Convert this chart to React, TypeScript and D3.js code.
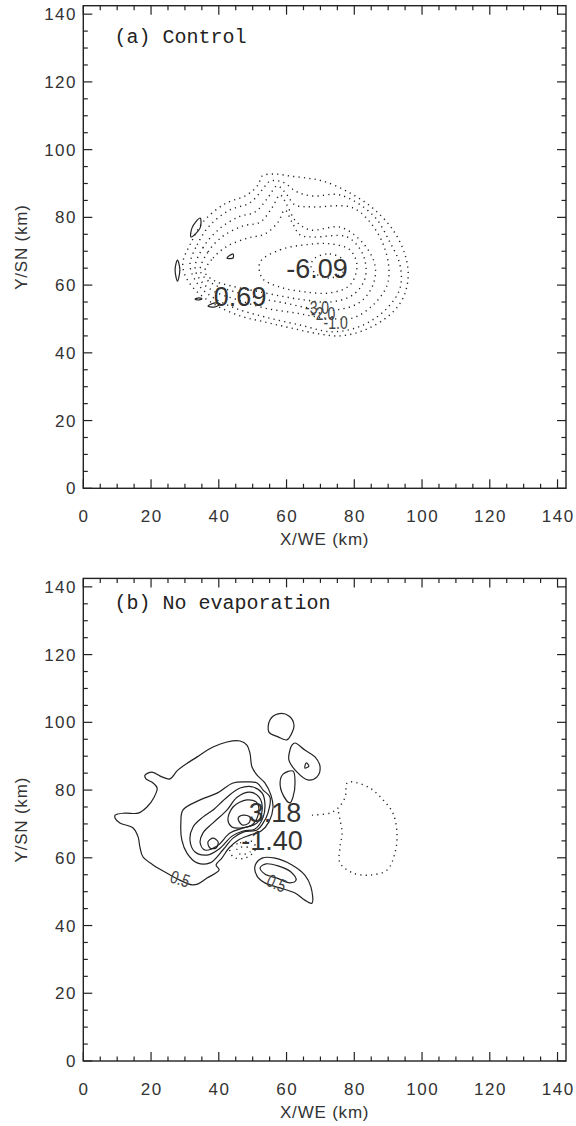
import React from 'react';
import * as d3 from 'd3';

type Pt = [number, number];

// axis values (km)
const DOMAIN: [number, number] = [0, 142.5];
const MAJOR_TICKS = [0, 20, 40, 60, 80, 100, 120, 140];
const MINOR_TICKS = [5, 10, 15, 25, 30, 35, 45, 50, 55, 65, 70, 75, 85, 90, 95, 105, 110, 115, 125, 130, 135];

// (a) Control: negative (dotted) contours, outer to inner
const ctrlDotted: Pt[][] = [
  [[29.4, 66.8], [31.5, 71.9], [35.4, 78.7], [41.8, 84.0], [48.3, 86.6], [51.6, 89.6], [52.8, 92.2], [56.6, 92.8], [61.0, 92.2], [66.0, 91.6], [70.8, 90.7], [78.2, 87.5], [85.5, 82.7], [91.4, 76.3], [95.0, 68.9], [95.9, 62.4], [94.4, 56.2], [90.5, 51.2], [83.2, 46.8], [75.8, 45.0], [68.4, 45.8], [61.0, 47.4], [53.6, 49.1], [46.3, 50.9], [38.9, 54.2], [33.0, 58.6], [30.0, 63.0]],
  [[31.5, 65.9], [33.6, 71.9], [37.4, 77.7], [43.3, 82.2], [49.2, 84.3], [52.8, 88.1], [55.1, 90.7], [58.9, 90.4], [63.1, 87.5], [67.8, 86.3], [75.8, 86.6], [85.5, 80.7], [90.5, 72.7], [93.5, 65.9], [93.5, 59.1], [89.7, 53.2], [82.6, 48.2], [73.7, 46.2], [64.0, 48.2], [53.6, 50.6], [44.8, 53.2], [38.0, 56.5], [33.6, 60.6]],
  [[33.0, 65.1], [35.3, 71.0], [39.8, 76.3], [45.7, 80.1], [50.7, 81.6], [54.5, 85.8], [57.2, 89.3], [59.5, 87.5], [62.5, 83.7], [67.8, 83.1], [79.6, 82.8], [86.7, 75.7], [90.0, 66.8], [89.7, 60.0], [85.5, 54.1], [79.6, 50.3], [71.3, 50.3], [62.5, 51.8], [53.6, 53.2], [45.7, 55.6], [38.9, 58.0], [35.0, 60.9]],
  [[34.5, 64.5], [36.8, 69.8], [40.9, 74.2], [46.9, 77.4], [52.2, 78.6], [55.7, 82.8], [58.1, 86.6], [60.1, 83.7], [62.5, 79.2], [66.9, 76.3], [75.8, 77.1], [82.3, 72.7], [86.1, 65.9], [85.5, 60.0], [81.7, 55.0], [74.9, 52.7], [66.9, 53.2], [59.5, 54.7], [51.6, 56.2], [44.8, 58.0], [38.9, 60.0], [35.9, 62.1]],
  [[35.9, 63.9], [38.3, 68.0], [42.7, 71.6], [48.6, 73.9], [53.6, 75.1], [57.5, 78.6], [59.5, 82.2], [61.6, 78.6], [64.0, 74.8], [67.8, 74.2], [77.9, 74.2], [82.6, 68.9], [83.2, 62.1], [79.6, 57.1], [72.8, 55.0], [65.4, 55.6], [58.1, 56.8], [50.7, 58.3], [43.9, 59.7], [38.9, 61.2]],
  [[52.2, 66.8], [58.1, 70.4], [65.4, 71.9], [72.8, 72.2], [78.7, 70.4], [80.8, 65.7], [78.7, 60.0], [72.8, 57.7], [65.4, 58.0], [58.1, 59.4], [52.8, 62.1]],
  [[68.4, 68.0], [72.8, 69.2], [76.7, 67.4], [76.7, 63.9], [72.8, 62.1], [68.7, 63.3], [67.2, 65.7]],
];

// (a) Control: small positive (solid) contours
const ctrlSolid: Pt[][] = [
  [[31.8, 74.2], [32.1, 76.9], [34.5, 79.8], [34.5, 76.9]],
  [[27.8, 67.4], [28.5, 64.5], [27.8, 61.2], [27.1, 64.5]],
  [[42.4, 68.0], [44.2, 69.2], [44.2, 68.0]],
  [[33.0, 55.9], [34.2, 56.2], [35.0, 55.9], [33.8, 55.6]],
  [[36.8, 53.8], [38.6, 54.7], [40.4, 54.4], [38.6, 53.5]],
];

const ctrlExtremes = [
  { text: '-6.09', x: 69.0, y: 62.1 },
  { text: '0.69', x: 46.3, y: 53.8 },
];
const ctrlLevelLabels = [
  { text: '-3.0', x: 69.0, y: 51.5, angle: 0 },
  { text: '-2.0', x: 70.8, y: 49.6, angle: 0 },
  { text: '-1.0', x: 74.5, y: 47.0, angle: 0 },
];

// (b) No evaporation: positive (solid) contours
const noevSolid: Pt[][] = [
  // 0.5 outer
  [[9.4, 72.6], [12.3, 73.2], [16.2, 73.2], [18.8, 75.0], [20.9, 77.9], [21.8, 80.6], [20.6, 82.1], [18.5, 83.3], [18.2, 84.4], [20.3, 85.3], [23.2, 83.9], [25.6, 83.3], [27.9, 85.9], [33.6, 89.8], [38.3, 92.7], [42.4, 94.2], [46.3, 94.5], [48.3, 93.3], [49.2, 90.9], [49.8, 86.8], [51.3, 84.4], [53.6, 82.1], [55.4, 78.5], [56.0, 74.7], [54.8, 70.6], [52.5, 67.9], [49.2, 66.7], [45.7, 65.2], [43.0, 62.9], [40.9, 59.9], [39.2, 57.9], [40.1, 56.4], [36.5, 54.0], [33.9, 52.3], [32.1, 52.0], [28.5, 53.4], [24.1, 55.8], [20.6, 57.9], [17.6, 60.3], [16.7, 63.2], [16.2, 66.1], [14.7, 68.8], [10.8, 70.3], [9.4, 71.7]],
  [[29.4, 74.1], [34.5, 77.1], [39.5, 79.1], [44.2, 82.1], [48.3, 82.4], [51.3, 82.1], [53.1, 80.0], [55.1, 77.9], [54.5, 73.2], [53.1, 70.3], [51.3, 68.2], [47.2, 67.6], [44.2, 65.8], [41.2, 62.3], [37.4, 58.5], [33.6, 58.5], [30.6, 61.4], [29.1, 65.2], [28.8, 70.3]],
  [[32.4, 69.1], [35.3, 72.0], [38.3, 74.1], [42.4, 77.9], [46.3, 80.6], [50.1, 80.9], [52.8, 79.1], [53.6, 76.2], [53.1, 72.0], [50.7, 68.5], [47.2, 67.9], [43.9, 66.4], [40.1, 62.6], [36.5, 60.8], [33.0, 61.7], [31.5, 65.2]],
  [[35.3, 67.3], [38.3, 70.3], [42.4, 74.1], [45.4, 77.9], [49.2, 79.4], [51.9, 77.9], [52.8, 74.1], [51.3, 70.3], [47.2, 68.8], [43.3, 67.3], [39.5, 63.5], [35.9, 62.3], [34.5, 64.4]],
  [[42.7, 71.2], [44.2, 75.0], [48.3, 77.1], [51.3, 76.2], [51.6, 72.6], [49.8, 69.7], [46.3, 68.8], [43.9, 69.1]],
  [[45.7, 71.7], [47.2, 72.6], [49.2, 72.0], [48.9, 70.3], [46.9, 69.7]],
  [[38.3, 65.8], [39.8, 64.7], [39.2, 62.9], [37.4, 62.9], [36.8, 64.7]],
  // lower right pair
  [[50.7, 57.6], [52.8, 59.9], [56.6, 59.9], [61.6, 57.9], [65.4, 54.9], [67.2, 51.4], [67.5, 46.6], [65.4, 47.5], [62.5, 49.6], [58.1, 51.1], [53.6, 52.6], [51.3, 54.6]],
  [[52.2, 57.0], [53.9, 58.2], [57.5, 57.6], [61.3, 55.8], [62.8, 53.4], [61.0, 52.6], [57.2, 54.0], [53.6, 55.2]],
  // upper cells
  [[55.1, 100.7], [57.5, 102.5], [60.7, 101.9], [62.2, 99.2], [61.3, 96.3], [60.1, 94.8], [57.5, 95.7], [54.8, 97.1]],
  [[61.6, 93.3], [62.5, 93.9], [65.4, 91.8], [68.4, 89.8], [69.9, 86.8], [69.0, 83.9], [66.3, 83.0], [63.1, 85.3], [60.7, 88.9], [61.0, 91.8]],
  [[65.8, 88.0], [66.6, 87.1], [65.4, 86.5]],
  [[61.9, 85.6], [62.5, 82.1], [61.9, 77.9], [61.0, 76.2], [59.0, 78.5], [58.1, 82.4], [59.0, 84.7]],
];

// (b) No evaporation: negative (dotted) contours
const noevDotted: Pt[][] = [
  [[43.3, 62.9], [46.3, 64.4], [50.1, 64.7], [50.7, 62.3], [47.7, 59.9], [44.2, 60.3]],
  [[45.4, 62.6], [48.3, 63.2], [49.2, 61.7], [46.3, 61.1]],
];
const noevDottedOpen: Pt[][] = [
  [[67.5, 72.6], [72.8, 73.2], [75.2, 74.7], [77.3, 77.9], [77.9, 82.1], [79.6, 82.4], [84.6, 80.6], [88.5, 77.1], [91.4, 73.2], [92.6, 67.3], [92.0, 61.4], [89.7, 56.4], [84.6, 54.9], [79.6, 55.5], [75.8, 58.5], [75.8, 63.2], [76.4, 67.3], [75.8, 71.2], [75.2, 74.1]],
];

const noevExtremes = [
  { text: '3.18', x: 56.6, y: 70.6 },
  { text: '-1.40', x: 55.7, y: 62.3 },
];
const noevLevelLabels = [
  { text: '0.5', x: 28.0, y: 52.0, angle: 18 },
  { text: '0.5', x: 56.3, y: 50.8, angle: 24 },
];

const INK = '#222';
const SANS = '"Liberation Sans", Arial, Helvetica, sans-serif';

function Panel({ top, bottom, title, titleY, solid, dotted, dottedOpen, extremes, levelLabels }: any) {
  const left = 83.3;
  const right = 566;
  const x = d3.scaleLinear().domain(DOMAIN).range([left, right]);
  const y = d3.scaleLinear().domain(DOMAIN).range([bottom, top]);

  const closed = d3
    .line<Pt>()
    .x((d) => x(d[0]))
    .y((d) => y(d[1]))
    .curve(d3.curveCatmullRomClosed.alpha(0.5));
  const open = d3
    .line<Pt>()
    .x((d) => x(d[0]))
    .y((d) => y(d[1]))
    .curve(d3.curveCatmullRom.alpha(0.5));

  const tick = (v: number, len: number, key: string) => (
    <g key={key}>
      <line x1={x(v)} x2={x(v)} y1={bottom} y2={bottom - len} />
      <line x1={x(v)} x2={x(v)} y1={top} y2={top + len} />
      <line y1={y(v)} y2={y(v)} x1={left} x2={left + len} />
      <line y1={y(v)} y2={y(v)} x1={right} x2={right - len} />
    </g>
  );

  return (
    <g>
      {/* contours */}
      <g fill="none" stroke={INK} strokeWidth={1.2}>
        {solid.map((c: Pt[], i: number) => (
          <path key={`s${i}`} d={closed(c) || ''} />
        ))}
      </g>
      <g fill="none" stroke={INK} strokeWidth={1.4} strokeDasharray="1.2 4.2">
        {dotted.map((c: Pt[], i: number) => (
          <path key={`d${i}`} d={closed(c) || ''} />
        ))}
        {dottedOpen.map((c: Pt[], i: number) => (
          <path key={`o${i}`} d={open(c) || ''} />
        ))}
      </g>

      {extremes.map((e: any) => (
        <text
          key={e.text}
          x={x(e.x)}
          y={y(e.y)}
          textAnchor="middle"
          fontFamily={SANS}
          fontSize={27}
          fill="#333"
        >
          {e.text}
        </text>
      ))}
      {levelLabels.map((l: any, i: number) => (
        <text
          key={`l${i}`}
          transform={`translate(${x(l.x)},${y(l.y)}) rotate(${l.angle}) scale(1,1.3)`}
          textAnchor="middle"
          fontFamily={SANS}
          fontSize={14}
          fill="#444"
        >
          {l.text}
        </text>
      ))}

      {/* axes box and ticks */}
      <rect
        x={left}
        y={top}
        width={right - left}
        height={bottom - top}
        fill="none"
        stroke={INK}
        strokeWidth={1.4}
      />
      <g stroke={INK} strokeWidth={1.2}>
        {MAJOR_TICKS.map((v) => tick(v, 9, `M${v}`))}
        {MINOR_TICKS.map((v) => tick(v, 4.5, `m${v}`))}
      </g>

      <g fontFamily={SANS} fontSize={17} fill="#333" letterSpacing={1.5}>
        {MAJOR_TICKS.map((v) => (
          <text key={`x${v}`} x={x(v) + 0.75} y={bottom + 34} textAnchor="middle">
            {v}
          </text>
        ))}
        {MAJOR_TICKS.map((v) => (
          <text key={`y${v}`} x={77} y={y(v)} dy="0.36em" textAnchor="end">
            {v}
          </text>
        ))}
      </g>
      <text
        x={(left + right) / 2}
        y={bottom + 57}
        textAnchor="middle"
        fontFamily={SANS}
        fontSize={17}
        letterSpacing={0.8}
        fill="#333"
      >
        X/WE (km)
      </text>
      <text
        transform={`translate(27,${(top + bottom) / 2}) rotate(-90)`}
        textAnchor="middle"
        fontFamily={SANS}
        fontSize={17}
        letterSpacing={0.8}
        fill="#333"
      >
        Y/SN (km)
      </text>
      <text
        x={x(9.2)}
        y={y(titleY)}
        fontFamily='"Liberation Mono", "Courier New", monospace'
        fontSize={20}
        fill={INK}
        xmlSpace="preserve"
      >
        {title}
      </text>
    </g>
  );
}

function App() {
  return (
    <svg
      width={576}
      height={1126}
      viewBox="0 0 576 1126"
      style={{ position: 'absolute', left: 0, top: 0, background: '#fff' }}
    >
      <Panel
        top={5.7}
        bottom={488.3}
        title="(a) Control"
        titleY={131.6}
        solid={ctrlSolid}
        dotted={ctrlDotted}
        dottedOpen={[]}
        extremes={ctrlExtremes}
        levelLabels={ctrlLevelLabels}
      />
      <Panel
        top={578.4}
        bottom={1061}
        title="(b) No evaporation"
        titleY={133.4}
        solid={noevSolid}
        dotted={noevDotted}
        dottedOpen={noevDottedOpen}
        extremes={noevExtremes}
        levelLabels={noevLevelLabels}
      />
    </svg>
  );
}

export default App;
